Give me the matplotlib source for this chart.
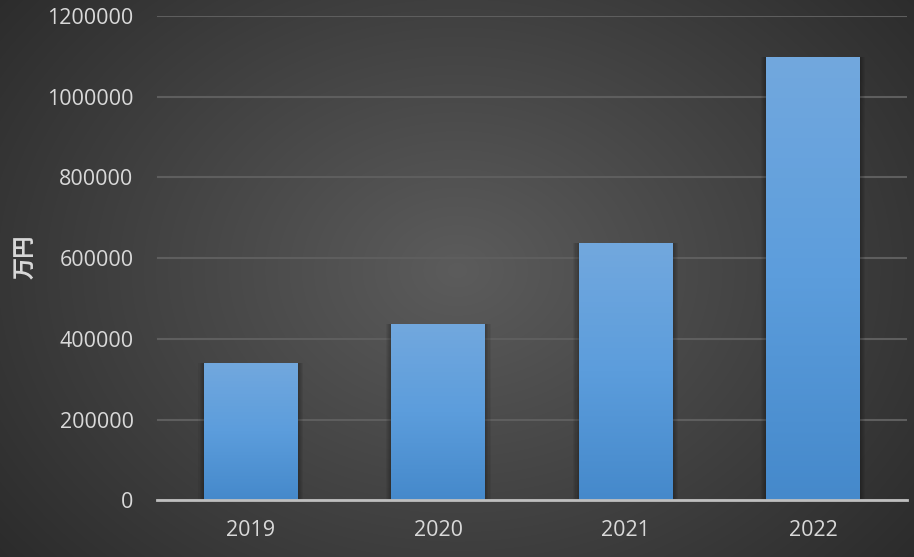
import numpy as np
import matplotlib
matplotlib.use("Agg")
import matplotlib.pyplot as plt
from matplotlib.patches import Rectangle

years = ["2019", "2020", "2021", "2022"]
values = [340000, 436000, 637000, 1098000]
y_ticks = [0, 200000, 400000, 600000, 800000, 1000000, 1200000]
y_label = "万円"

plt.rcParams["font.family"] = ["Open Sans", "Noto Sans CJK JP", "DejaVu Sans"]

fig = plt.figure(figsize=(9.14, 5.57), dpi=100)

# radial dark background
bg = fig.add_axes([0, 0, 1, 1], zorder=-10)
yy, xx = np.mgrid[0:557, 0:914]
r = np.sqrt(((xx - 457) / 620.0) ** 2 + ((yy - 270) / 480.0) ** 2)
shade = np.clip(0.36 - 0.2 * r, 0.15, 0.36)
bg.imshow(np.dstack([shade] * 3), aspect="auto", extent=[0, 1, 0, 1])
bg.set_axis_off()

ax = fig.add_axes([0.172, 0.102, 0.82, 0.869])
ax.set_facecolor("none")
x = np.arange(len(years))
bars = ax.bar(x, values, width=0.5, color="#5b9bd5", zorder=3)

# vertical gradient + soft shadow on each bar
grad = np.linspace(0, 1, 256).reshape(-1, 1)
cmap = matplotlib.colors.LinearSegmentedColormap.from_list("bar", ["#4589cb", "#5c9ddc", "#72a8de"])
for b in bars:
    x0, w, h = b.get_x(), b.get_width(), b.get_height()
    for k in range(1, 6):
        pad = k * 0.006
        ax.add_patch(Rectangle((x0 - pad, 0), w + 2 * pad, h + pad * 14000,
                               color="black", alpha=0.06, zorder=2, lw=0))
    im = ax.imshow(grad, cmap=cmap, aspect="auto", origin="lower",
                   extent=[x0, x0 + w, 0, h], zorder=3)
    im.set_clip_path(b)

ax.set_xlim(-0.5, len(years) - 0.5)
ax.set_ylim(0, 1200000)
ax.set_yticks(y_ticks)
ax.set_yticklabels([str(v) for v in y_ticks])
ax.set_xticks(x)
ax.set_xticklabels(years)
ax.tick_params(colors="#d9d9d9", labelsize=15.5, length=0)
ax.tick_params(axis="y", pad=17)
ax.tick_params(axis="x", pad=14)
ax.grid(axis="y", color="#5e5e5e", lw=1.5, zorder=1)
for s in ["top", "right", "left"]:
    ax.spines[s].set_visible(False)
ax.spines["bottom"].set_color("#bfbfbf")
ax.spines["bottom"].set_linewidth(2)
ax.spines["bottom"].set_zorder(4)

fig.text(0.028, 0.539, y_label, rotation=90, ha="center", va="center",
         color="#d9d9d9", fontsize=16, fontweight="bold",
         family=["Noto Sans CJK JP", "DejaVu Sans"])

fig.savefig("out.png", dpi=100)
